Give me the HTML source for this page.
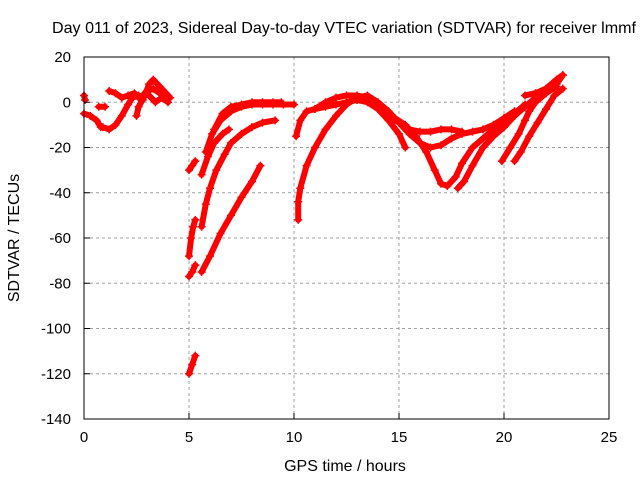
<!DOCTYPE html>
<html><head><meta charset="utf-8"><style>
body{margin:0;background:#fff;}
svg{display:block;font-family:"Liberation Sans",sans-serif;}
</style></head><body>
<svg id="chart" width="640" height="480">
<rect x="0" y="0" width="640" height="480" fill="#fff"/>
<g id="grid"></g>
<g id="series"></g>
<rect x="84" y="57" width="525" height="362" fill="none" stroke="#000" stroke-width="1"/>
<g id="ticks"></g>
<text x="52" y="33" font-size="16" textLength="584" lengthAdjust="spacingAndGlyphs">Day 011 of 2023, Sidereal Day-to-day VTEC variation (SDTVAR) for receiver lmmf</text>
<text x="345" y="471" text-anchor="middle" font-size="16">GPS time / hours</text>
<text transform="translate(19,238) rotate(-90)" text-anchor="middle" font-size="16">SDTVAR / TECUs</text>
</svg>
<script>
const xTicks=[0,5,10,15,20,25];
const yTicks=[20,0,-20,-40,-60,-80,-100,-120,-140];
const tracks=[
[[0,3],[0.05,1]],
[[0,-5],[0.3,-6],[0.6,-8],[0.8,-11]],
[[0.7,-2],[1.0,-2]],
[[0.9,-11],[1.2,-12],[1.5,-10],[1.8,-6],[2.1,-1],[2.3,2],[2.6,3],[2.8,1]],
[[1.2,5],[1.5,4],[1.8,2],[2.1,3],[2.4,4],[2.6,2]],
[[2.5,-6],[2.6,-2],[2.9,3],[3.1,8],[3.3,10],[3.6,7],[3.9,4],[4.1,2]],
[[2.7,2],[3.0,5],[3.3,6],[3.6,4],[4.0,2]],
[[3.0,4],[3.4,0],[3.7,2],[4.0,0]],
[[5.0,-120],[5.15,-116],[5.3,-112]],
[[5.0,-77],[5.15,-75],[5.3,-72]],
[[5.0,-68],[5.1,-60],[5.2,-55],[5.3,-52]],
[[5.0,-30],[5.15,-28],[5.3,-26]],
[[5.6,-75],[6,-68],[6.5,-58],[7,-50],[7.5,-42],[8,-35],[8.4,-28]],
[[5.6,-55],[5.8,-45],[6,-38],[6.3,-30],[6.7,-23],[7,-18],[7.5,-14],[8,-11],[8.5,-9],[9.1,-8]],
[[5.6,-32],[5.9,-24],[6.2,-18],[6.6,-14],[6.9,-12]],
[[5.8,-22],[6.1,-14],[6.5,-8],[7,-4],[7.5,-2],[8,-1],[8.5,-1],[9,-1],[9.5,-1],[10,-1]],
[[6.2,-12],[6.6,-5],[7,-2],[7.5,-1],[8,0],[8.5,0],[9,0],[9.4,0]],
[[10.1,-15],[10.3,-8],[10.6,-4],[11,-3],[11.5,-2],[12,-1],[12.5,0],[13,1],[13.5,0],[14,-3],[14.5,-8],[15,-14],[15.3,-20]],
[[10.2,-52],[10.2,-44],[10.3,-38],[10.6,-28],[11,-20],[11.5,-12],[12,-6],[12.5,-1],[13,2],[13.5,3],[14,0],[14.5,-4],[15,-9],[15.5,-12],[16,-13],[16.5,-13],[17,-12],[17.5,-12],[18,-13]],
[[11,-3],[11.5,0],[12,2],[12.5,3],[13,3],[13.5,2],[14,-1],[14.5,-6],[15,-9],[15.5,-14],[16,-18],[16.5,-20],[17,-19],[17.5,-16],[18,-14],[18.5,-13],[19,-12],[19.5,-10],[20,-7],[20.5,-4]],
[[14.8,-7],[15.3,-10],[15.8,-15],[16.3,-22],[16.7,-30],[17,-36],[17.3,-37],[17.7,-33],[18,-27],[18.5,-20],[19,-16],[19.5,-12],[20,-9],[20.5,-5],[21,-1]],
[[17.8,-38],[18.1,-35],[18.5,-28],[19,-20],[19.5,-15],[20,-11],[20.5,-6],[21,-2],[21.5,2],[22,4],[22.5,7]],
[[19.9,-26],[20.3,-20],[20.7,-14],[21,-8],[21.2,-4],[21.5,0],[22,4],[22.5,8],[22.8,12]],
[[20.5,-26],[20.8,-22],[21.2,-15],[21.6,-9],[22,-3],[22.4,3],[22.8,6]],
[[21,3],[21.5,4],[22,6],[22.5,10],[22.8,12]]
];
const L=84,R=609,T=57,B=419;
const sx=v=>L+(v-0)/(25-0)*(R-L);
const sy=v=>B-(v+140)/(160)*(B-T);
const NS="http://www.w3.org/2000/svg";
const grid=document.getElementById('grid'),ticks=document.getElementById('ticks'),ser=document.getElementById('series');
function mk(tag,at,par){const e=document.createElementNS(NS,tag);for(const k in at)e.setAttribute(k,at[k]);par.appendChild(e);return e;}
xTicks.forEach(v=>{const x=sx(v);
 if(v>0&&v<25){const g=mk('line',{x1:x,y1:T,x2:x,y2:B,stroke:'#a0a0a0','stroke-dasharray':'3,3'},grid);
 
 }
 const t1=mk('line',{x1:x,y1:B,x2:x,y2:B-6,stroke:'#000'},ticks);
 
 
 const tx=mk('text',{x:x,y:B+23,'text-anchor':'middle','font-size':'15'},ticks);tx.textContent=v;
 
 
});
yTicks.forEach(v=>{const y=sy(v);
 if(v>-140&&v<20){const g=mk('line',{x1:L,y1:y,x2:R,y2:y,stroke:'#a0a0a0','stroke-dasharray':'3,3'},grid);
 
 }
 const t1=mk('line',{x1:L,y1:y,x2:L+6,y2:y,stroke:'#000'},ticks);
 
 
 const tx=mk('text',{x:L-13,y:y+5,'text-anchor':'end','font-size':'15'},ticks);tx.textContent=v;
 
 
});
tracks.forEach((tr,i)=>{
 const pts=tr.map(p=>sx(p[0])+','+sy(p[1])).join(' ');
 const pl=mk('polyline',{points:pts,fill:'none',stroke:'#f00','stroke-width':'6','stroke-linejoin':'round','stroke-linecap':'round'},ser);
 
 
 tr.forEach(p=>{const x=sx(p[0]),y=sy(p[1]);
  const m=mk('path',{d:`M${x-4},${y}H${x+4}M${x},${y-4}V${y+4}`,stroke:'#f00','stroke-width':'1.5'},ser);
  
  
 });
});
</script>
</body></html>
